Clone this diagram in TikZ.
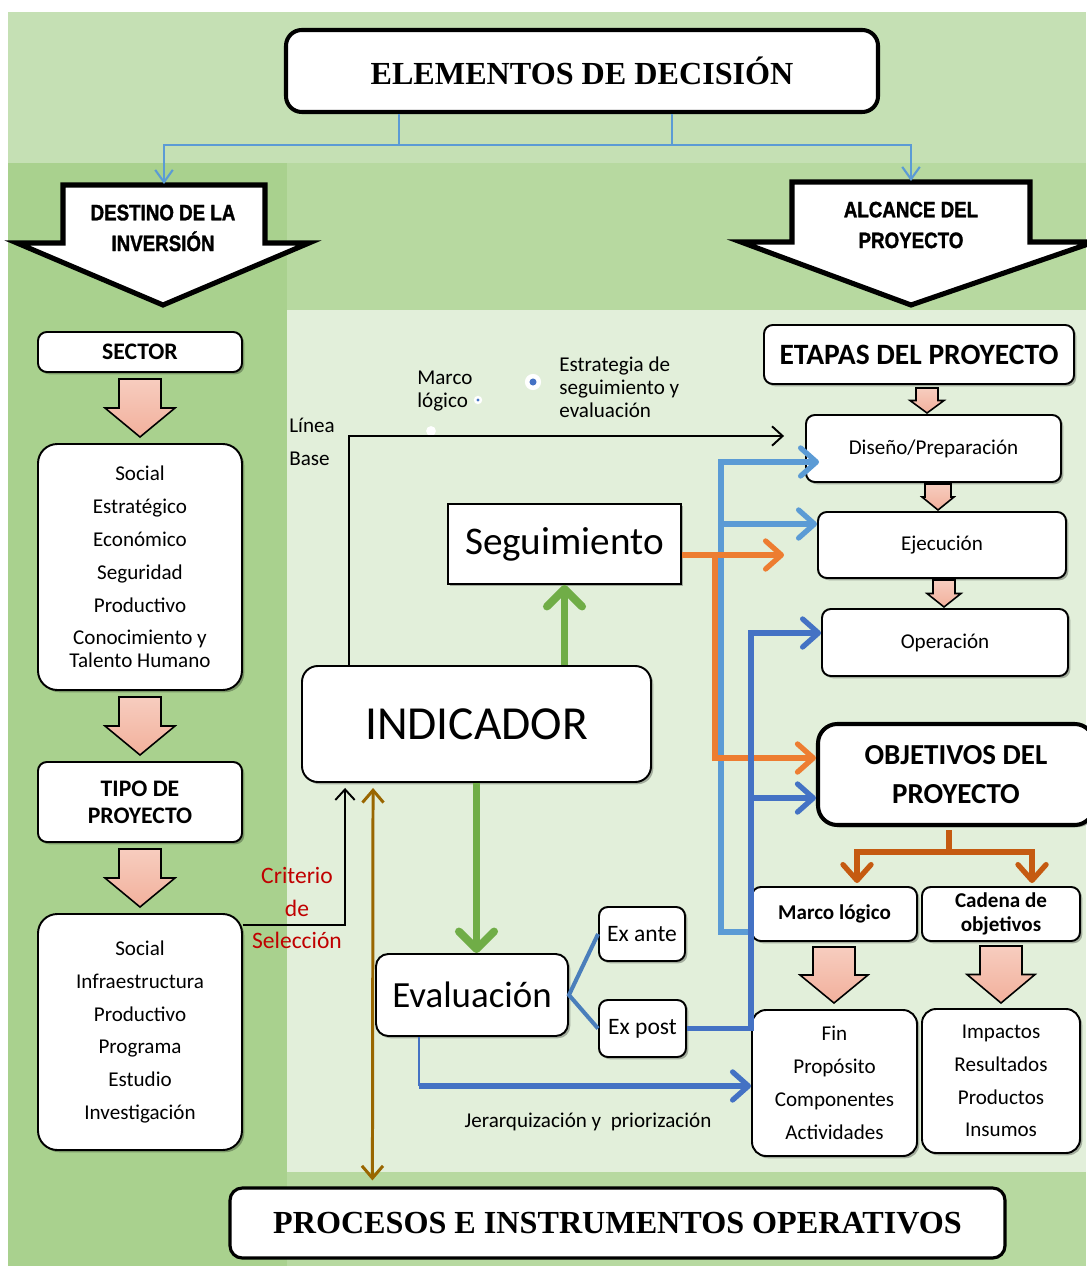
\documentclass[tikz,border=0pt]{standalone}
\usepackage{fontspec}
\setmainfont{Carlito}
\newfontfamily\serifbold{Liberation Serif}
\newfontfamily\narrowsans[FakeStretch=0.84,FakeBold=1.4]{Liberation Sans}
\usetikzlibrary{arrows.meta,calc,shadows}

\definecolor{bandtop}{HTML}{C5E0B4}
\definecolor{bandleft}{HTML}{A9D18E}
\definecolor{bandmid}{HTML}{B7D9A0}
\definecolor{innerbg}{HTML}{E2EFDA}
\definecolor{linkblue}{HTML}{5B9BD5}
\definecolor{deepblue}{HTML}{4472C4}
\definecolor{steelblue}{HTML}{4A7EBB}
\definecolor{orangeA}{HTML}{ED7D31}
\definecolor{orangeB}{HTML}{C55A11}
\definecolor{greenA}{HTML}{70AD47}
\definecolor{brownA}{HTML}{996600}
\definecolor{redA}{HTML}{C00000}
\definecolor{pinkTop}{HTML}{F7CDBF}
\definecolor{pinkBot}{HTML}{F2B09C}

% downward block arrow: centre x, top y, tip y, half shaft width, half head width
\newcommand\pinkdown[5]{%
  \path[pinkblock] ({#1-#4},#2) -- ({#1+#4},#2) -- ({#1+#4},{(#2+#3)/2}) --
    ({#1+#5},{(#2+#3)/2}) -- (#1,#3) -- ({#1-#5},{(#2+#3)/2}) --
    ({#1-#4},{(#2+#3)/2}) -- cycle;}

\tikzset{
  size/.style 2 args={minimum width={#1*0.02cm}, minimum height={#2*0.02cm}},
  softshadow/.style={drop shadow={shadow xshift=1.3pt, shadow yshift=-1.3pt, opacity=0.28, fill=black}},
  box/.style={draw, line width=1.1pt, fill=white, rounded corners=5pt, align=center,
    inner sep=1pt, softshadow},
  listbox/.style={box, rounded corners=11pt, font=\fontsize{12}{18.7}\selectfont},
  headbox/.style={box, font=\bfseries\fontsize{13.5}{15.4}\selectfont},
  stagebox/.style={box, font=\fontsize{12}{14}\selectfont},
  serifbox/.style={draw, line width=2.3pt, fill=white, rounded corners=7pt, align=center,
    font=\serifbold\bfseries\fontsize{18.3}{21}\selectfont},
  bigarrow/.style={draw, line width=2.9pt, fill=white, line join=miter},
  arrowtext/.style={align=center, font=\narrowsans\bfseries\fontsize{12.7}{17.5}\selectfont},
  pinkblock/.style={draw=black, line width=0.9pt, top color=pinkTop, bottom color=pinkBot, line join=miter},
  titlelink/.style={draw=linkblue, line width=1.2pt, -{Straight Barb[length=7pt,width=10pt]}},
  blacklink/.style={draw=black, line width=1.1pt, -{Straight Barb[length=6pt,width=11pt]}},
  thicklink/.style={line width=3pt, -{Straight Barb[round,length=9pt,width=16pt]}},
  greenlink/.style={draw=greenA, line width=4.5pt, -{Straight Barb[round,length=10pt,width=20pt]}},
  brownlink/.style={draw=brownA, line width=1.7pt, {Straight Barb[length=7pt,width=12pt]}-{Straight Barb[length=7pt,width=12pt]}},
  plain/.style={align=left, inner sep=0pt, font=\fontsize{12}{13}\selectfont},
}

\begin{document}
\begin{tikzpicture}[x=0.02cm,y=-0.02cm]
\useasboundingbox (0,0) rectangle (1086,1266);

% background bands
\fill[white] (0,0) rectangle (1086,1266);
\fill[bandtop] (8,12) rectangle (1086,163);
\fill[bandleft] (8,163) rectangle (287,1266);
\fill[bandmid] (287,163) rectangle (1086,310);
\fill[innerbg] (287,310) rectangle (1086,1172);
\fill[bandmid] (287,1172) rectangle (1086,1266);

% heading
\node[serifbox, size={592}{82}, rounded corners=9pt] (title) at (582,71) {ELEMENTOS DE DECISIÓN};

% the two big block arrows
\draw[bigarrow] (63,185) -- (265,185) -- (265,243) -- (309,243) -- (163,305) -- (17,243) -- (63,243) -- cycle;
\node[arrowtext] (destino) at (163,228) {DESTINO DE LA\\INVERSIÓN};
\coordinate (destinoTop) at (164,184);
\draw[bigarrow] (792,182) -- (1030,182) -- (1030,242) -- (1094,242) -- (911,305) -- (741,242) -- (792,242) -- cycle;
\node[arrowtext] (alcance) at (911,225) {ALCANCE DEL\\PROYECTO};
\coordinate (alcanceTop) at (911,181);

\draw[titlelink] ($(title.south)+(-183,0)$) -- ++(0,31) -| (alcanceTop);
\draw[titlelink] ($(title.south)+(90,0)$) -- ++(0,31) -| (destinoTop);

% left column
\node[headbox, size={204}{40}] (sector) at (140,352) {SECTOR};
\pinkdown{140}{379}{437}{21}{35}
\node[listbox, size={204}{246}] (sectores) at (140,567)
  {Social\\Estratégico\\Económico\\Seguridad\\Productivo\\Conocimiento y\\[-5.7pt]Talento Humano};
\pinkdown{140}{697}{755}{21}{35}
\node[headbox, size={204}{80}] (tipo) at (140,802) {TIPO DE\\PROYECTO};
\pinkdown{140}{849}{907}{21}{35}
\node[listbox, size={204}{236}] (tipos) at (140,1032)
  {Social\\Infraestructura\\Productivo\\Programa\\Estudio\\Investigación};

% centre
\node[box, size={349}{116}, rounded corners=9pt, font=\fontsize{27}{30}\selectfont] (ind) at (476.5,724) {INDICADOR};
\node[box, size={233}{80}, rounded corners=0pt, font=\fontsize{22.3}{24}\selectfont] (seg) at (564.5,544) {Seguimiento};
\node[box, size={192}{82}, rounded corners=7pt, font=\fontsize{21}{24}\selectfont] (eval) at (472,995) {Evaluación};
\node[box, size={86}{54}, font=\fontsize{13.4}{15}\selectfont] (exante) at (642,934) {Ex ante};
\node[box, size={87}{57}, font=\fontsize{13.4}{15}\selectfont] (expost) at (642.5,1028.5) {Ex post};

\node[plain, anchor=west] (linea) at (289,442) {Línea\\[5.8pt]Base};
\node[plain, anchor=west] (marcotxt) at (417,391) {Marco\\lógico};
\node[plain, anchor=west] (estrategia) at (559,387) {Estrategia de\\seguimiento y\\evaluación};
\node[align=center, text=redA, font=\fontsize{13.4}{18.3}\selectfont] (criterio) at (297,908) {Criterio\\de\\Selección};
\node[plain, font=\fontsize{12}{14}\selectfont] (jerarq) at (588,1122) {Jerarquización y\ \ priorización};

% small markers beside the labels
\fill[white] (431,431) circle (2.8pt);
\fill[white] (478,400) circle (2.4pt);
\fill[deepblue] (478,400) circle (0.9pt);
\fill[white] (533,382) circle (4.6pt);
\fill[deepblue] (533,382) circle (2pt);

% right column
\node[box, size={310}{59}, font=\bfseries\fontsize{16.8}{18}\selectfont] (etapas) at (919,354.5) {ETAPAS DEL PROYECTO};
\pinkdown{927}{388}{413}{11}{17}
\node[stagebox, size={255}{67}] (dis) at (933.5,448.5) {Diseño/Preparación};
\pinkdown{938}{484}{510}{13}{16}
\node[stagebox, size={248}{66}] (ejec) at (942,545) {Ejecución};
\pinkdown{944}{580}{607}{11}{17}
\node[stagebox, size={246}{67}] (oper) at (945,642.5) {Operación};

\node[box, line width=2.3pt, rounded corners=11pt, size={276}{101}, font=\bfseries\fontsize{16.5}{22}\selectfont] (obj) at (956,774.5) {OBJETIVOS DEL\\PROYECTO};
\node[box, size={165}{54}, font=\bfseries\fontsize{12}{13.7}\selectfont] (marco) at (834.5,914) {Marco lógico};
\node[box, size={158}{54}, font=\bfseries\fontsize{12}{13.7}\selectfont] (cadena) at (1001,914) {Cadena de\\objetivos};
\pinkdown{834}{947}{1003}{21}{34}
\pinkdown{1001}{946}{1003}{21}{34}
\node[listbox, rounded corners=8pt, size={165}{146}] (fin) at (834.5,1083) {Fin\\Propósito\\Componentes\\Actividades};
\node[listbox, rounded corners=8pt, size={158}{144}] (impactos) at (1001,1081) {Impactos\\Resultados\\Productos\\Insumos};

% bottom bar
\node[serifbox, line width=1.8pt, size={775}{70}] (procesos) at (617.5,1223) {PROCESOS E INSTRUMENTOS OPERATIVOS};

% anchor points on the stage boxes
\coordinate (disIn) at ($(dis.west)+(14,13.5)$);
\coordinate (ejecIn) at ($(ejec.west)+(0,-21)$);
\coordinate (operIn) at ($(oper.west)+(0,-9.5)$);
\coordinate (objHi) at ($(obj.west)+(0,-16.5)$);
\coordinate (objLo) at ($(obj.west)+(0,23.5)$);
\coordinate (segOut) at ($(seg.east)+(0,11)$);

% connectors
\draw[blacklink] ($(tipos.north east)+(0,12)$) -| ($(ind.south west)+(44,5)$);
\draw[blacklink] ($(ind.north west)+(48,0)$) |- ($(dis.west)+(-21,-12.5)$);
\draw[greenlink] (ind.north -| seg.south) -- (seg.south);
\draw[greenlink] (ind.south) -- (ind.south |- eval.north);
\draw[brownlink] ($(ind.south west)+(72,5)$) -- ($(procesos.north west)+(144,-6)$);

\draw[steelblue, line width=2.3pt] (exante.west) -- (eval.east) -- (expost.west);

\draw[thicklink, draw=linkblue] ($(marco.west)+(0,18)$) -| ($(disIn)+(-98,0)$) -- (disIn);
\draw[thicklink, draw=linkblue] ($(ejecIn)+(-96,0)$) -- (ejecIn);

\draw[thicklink, draw=orangeA] (segOut) -- ($(ejec.west)+(-33,10)$);
\draw[thicklink, draw=orangeA] ($(segOut)+(33,0)$) |- (objHi);

\draw[thicklink, draw=deepblue] (expost.east) -| ($(operIn)+(-70,0)$) -- (operIn);
\draw[thicklink, draw=deepblue] ($(objLo)+(-66,0)$) -- (objLo);

\coordinate (jer) at ($(eval.south west)+(44,49)$);
\draw[deepblue, line width=0.8pt] ($(eval.south west)+(44,0)$) -- (jer);
\draw[thicklink, draw=deepblue] (jer) -- (jer -| fin.west);

\draw[thicklink, draw=orangeB] ($(obj.south)+(-7,3)$) |- ($(marco.north)+(22.5,-34)$) -- ($(marco.north)+(22.5,-3)$);
\draw[thicklink, draw=orangeB] ($(obj.south)+(-7,3)$) |- ($(cadena.north)+(31,-34)$) -- ($(cadena.north)+(31,-3)$);
\end{tikzpicture}
\end{document}
